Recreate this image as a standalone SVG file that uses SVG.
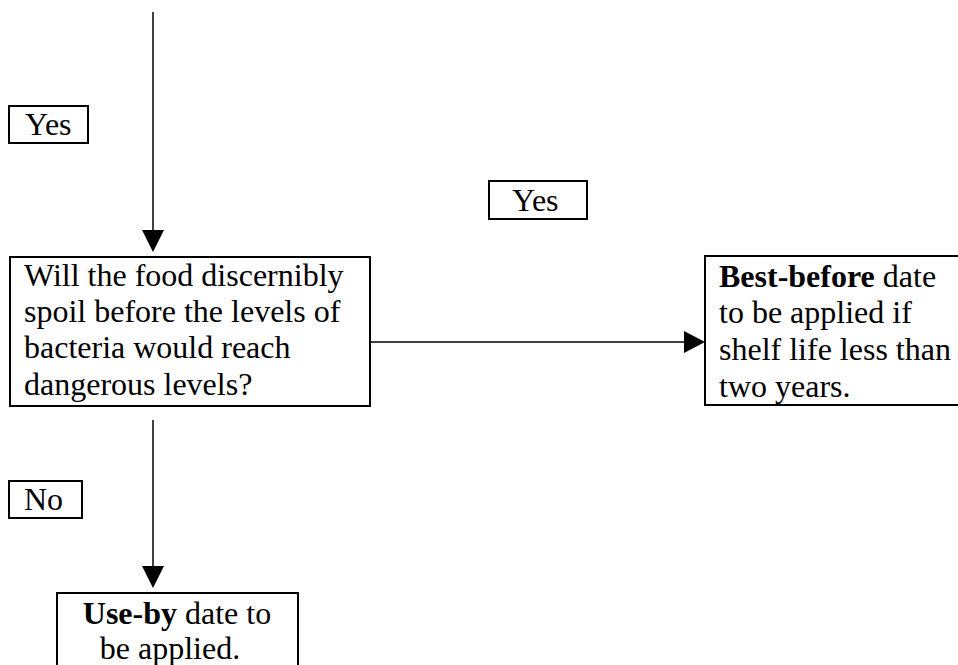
<svg xmlns="http://www.w3.org/2000/svg" width="958" height="665" viewBox="0 0 958 665">
<style>
text{font-family:"Liberation Serif","Times New Roman",serif;font-size:32px;fill:#000}
.b{font-weight:bold}
.box{fill:#fff;stroke:#000;stroke-width:2}
.conn{stroke:#000;stroke-width:1.5;fill:none}
</style>
<rect width="958" height="665" fill="#fff"/>
<g id="connectors">
<line class="conn" x1="153" y1="12" x2="153" y2="231"/>
<path d="M142,230 L164,230 L153,252 z" fill="#000"/>
<line class="conn" x1="371" y1="342" x2="686" y2="342"/>
<path d="M684,331 L705,342 L684,353 z" fill="#000"/>
<line class="conn" x1="153" y1="420" x2="153" y2="568"/>
<path d="M142,566 L164,566 L153,588 z" fill="#000"/>
</g>
<g id="label-yes1">
<rect class="box" x="9" y="106" width="79" height="37"/>
<text x="25" y="135">Yes</text>
</g>
<g id="label-yes2">
<rect class="box" x="489" y="181" width="98" height="38"/>
<text x="512" y="211">Yes</text>
</g>
<g id="label-no">
<rect class="box" x="9" y="481" width="73" height="37"/>
<text x="24" y="510">No</text>
</g>
<g id="question">
<rect class="box" x="10" y="257" width="360" height="149"/>
<text x="24" y="286">Will the food discernibly</text>
<text x="24" y="322">spoil before the levels of</text>
<text x="24" y="358">bacteria would reach</text>
<text x="24" y="395">dangerous levels?</text>
</g>
<g id="best-before">
<rect class="box" x="705" y="256" width="270" height="149"/>
<text x="719" y="287"><tspan class="b">Best-before</tspan> date</text>
<text x="719" y="323">to be applied if</text>
<text x="719" y="360">shelf life less than</text>
<text x="719" y="397">two years.</text>
</g>
<g id="use-by">
<rect class="box" x="57" y="593" width="241" height="90"/>
<text x="177" y="624" text-anchor="middle"><tspan class="b">Use-by</tspan> date to</text>
<text x="170" y="659" text-anchor="middle">be applied.</text>
</g>
</svg>
